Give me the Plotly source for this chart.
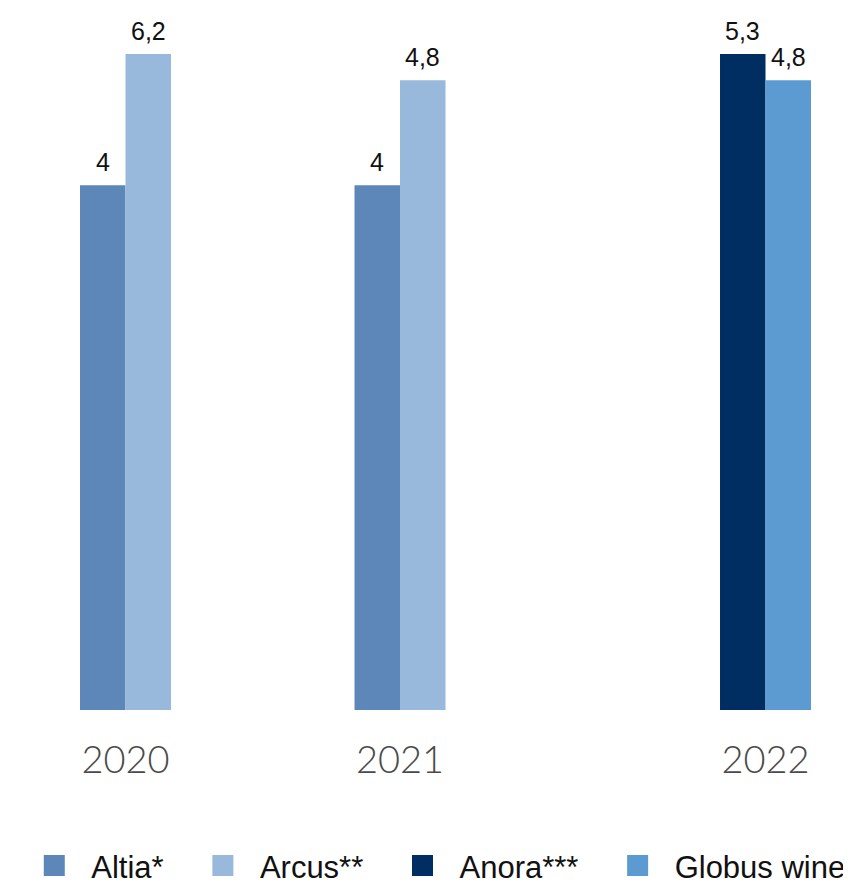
import plotly.graph_objects as go

years = ["2020", "2021", "2022"]
series = ["Altia*", "Arcus**", "Anora***", "Globus wine"]
values = {
    "Altia*": [4.0, 4.0, None],
    "Arcus**": [6.2, 4.8, None],
    "Anora***": [None, None, 5.3],
    "Globus wine": [None, None, 4.8],
}
colors = {
    "Altia*": "#5E87B9",
    "Arcus**": "#98B9DB",
    "Anora***": "#002E63",
    "Globus wine": "#5C9BD1",
}

Y_MAX = 5.0
BARGAP = 0.337
N = len(series)
slot_w = (1 - BARGAP) / N
xs = list(range(len(years)))


def fmt(v):
    s = f"{v:g}"
    return s.replace(".", ",")


fig = go.Figure()
for name in series:
    fig.add_trace(go.Bar(
        x=xs, y=values[name], name=name, marker=dict(color=colors[name], line=dict(width=0)),
        showlegend=False, hoverinfo="skip",
    ))
# legend proxies (bigger swatches); spacing padding after all but the last entry
for i, name in enumerate(series):
    pad = "\u00a0\u00a0" if i < len(series) - 1 else ""
    fig.add_trace(go.Scatter(
        x=[None], y=[None], mode="markers", name=name + pad,
        marker=dict(symbol="square", size=16, color=colors[name],
                    line=dict(color=colors[name], width=5)),
        showlegend=True,
    ))

annotations = []
tickvals = []
for ci, _ in enumerate(years):
    present = []
    for k, name in enumerate(series):
        v = values[name][ci]
        if v is None:
            continue
        xpos = ci + (k - (N - 1) / 2) * slot_w
        present.append(xpos)
        annotations.append(dict(
            x=xpos, y=min(v, Y_MAX), xref="x", yref="y", text=fmt(v),
            showarrow=False, yanchor="bottom", yshift=7,
            font=dict(family="Liberation Sans, Arial, sans-serif", size=25, color="#111111"),
        ))
    tickvals.append(sum(present) / len(present))

fig.update_layout(
    width=843, height=877,
    margin=dict(l=0, r=0, t=46, b=175, autoexpand=False),
    plot_bgcolor="white", paper_bgcolor="white",
    barmode="group", bargap=BARGAP, bargroupgap=0,
    xaxis=dict(range=[-0.5938, 2.4772], tickvals=tickvals, ticktext=years,
               showgrid=False, zeroline=False, showline=False, ticks="",
               tickfont=dict(family="Lato", size=38, color="#4A4A4A", weight=300),
               ticklabelstandoff=24),
    yaxis=dict(range=[0, Y_MAX], showgrid=False, zeroline=False, showline=False,
               showticklabels=False, ticks=""),
    legend=dict(orientation="h", x=0.011, xanchor="left", y=-0.1966, yanchor="top",
                itemwidth=64, font=dict(family="Liberation Sans, Arial, sans-serif", size=31, color="#111111"),
                bgcolor="rgba(0,0,0,0)", itemclick=False, itemdoubleclick=False),
    annotations=annotations,
    showlegend=True,
)

fig.write_html("out.html")
